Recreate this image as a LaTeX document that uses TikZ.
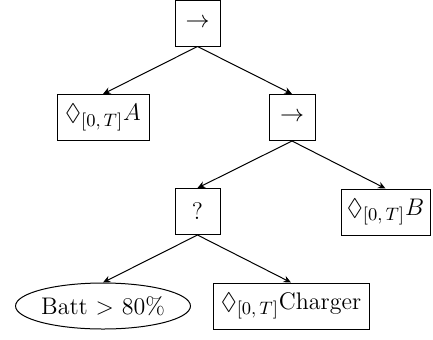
\documentclass[tikz,border=0pt]{standalone}
\usepackage{amssymb}
\usetikzlibrary{arrows.meta,shapes.geometric}
\DeclareMathSizes{12}{12}{9}{7}
\begin{document}
\begin{tikzpicture}[x=0.5pt,y=-0.5pt,
  every node/.style={font=\fontsize{12}{14}\selectfont},
  box/.style={draw,line width=0.5pt,inner sep=0pt,minimum height=23pt},
  leaf/.style={draw,ellipse,line width=0.5pt,inner sep=0pt,minimum height=23pt,minimum width=87pt},
  edge/.style={line width=0.5pt,-{Stealth[length=3.8pt,width=3.4pt]}}]
  \useasboundingbox (0,0) rectangle (433,339);
  \node[box,minimum width=22.5pt] (root) at (197.5,23) {$\rightarrow$};
  \node[box,minimum width=46pt] (a) at (103,117.5) {$\lozenge_{[0,\,T]}A$};
  \node[box,minimum width=23pt] (seq) at (292,117.5) {$\rightarrow$};
  \node[box,minimum width=22.5pt] (fb) at (197.5,211.5) {?};
  \node[box,minimum width=44.5pt] (b) at (385.5,212) {$\lozenge_{[0,\,T]}B$};
  \node[leaf] (batt) at (103,306) {Batt $>$ 80\%};
  \node[box,minimum width=78pt] (chg) at (291,306) {$\lozenge_{[0,\,T]}$Charger};
  \draw[edge] (root.south) -- (a.north);
  \draw[edge] (root.south) -- (seq.north);
  \draw[edge] (seq.south) -- (fb.north);
  \draw[edge] (seq.south) -- (b.north);
  \draw[edge] (fb.south) -- (batt.north);
  \draw[edge] (fb.south) -- (chg.north);
\end{tikzpicture}
\end{document}
